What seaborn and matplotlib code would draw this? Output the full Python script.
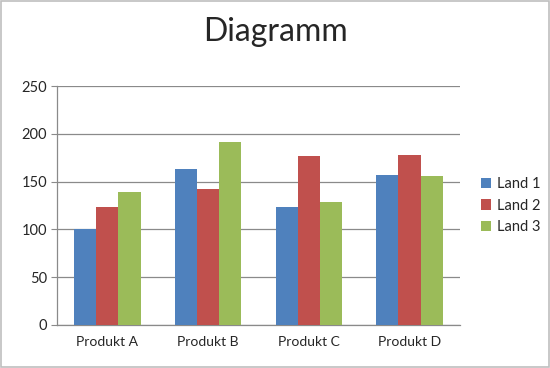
import pandas as pd
import matplotlib.pyplot as plt
import seaborn as sns
from matplotlib.patches import Rectangle

# chart data
PRODUKTE = ['Produkt A', 'Produkt B', 'Produkt C', 'Produkt D']
LAND_1 = [100, 163, 123, 157]
LAND_2 = [123, 142, 177, 178]
LAND_3 = [139, 192, 129, 156]
SERIES = ['Land 1', 'Land 2', 'Land 3']
COLORS = ['#4F81BD', '#C0504D', '#9BBB59']

df = pd.DataFrame({'Land 1': LAND_1, 'Land 2': LAND_2, 'Land 3': LAND_3}, index=PRODUKTE)
df = df.reset_index().melt(id_vars='index', var_name='Land', value_name='Wert')

sns.set_style('white')
plt.rcParams['font.family'] = ['Lato', 'DejaVu Sans']

fig = plt.figure(figsize=(5.5, 3.68), dpi=100)
ax = fig.add_axes([0.1036, 0.117, 0.7324, 0.649])

sns.barplot(data=df, x='index', y='Wert', hue='Land', hue_order=SERIES,
            palette=COLORS, width=0.66, saturation=1, linewidth=0,
            ax=ax, zorder=3)

ax.set_ylim(0, 250)
ax.set_yticks(range(0, 251, 50))
ax.set_xlim(-0.5, 3.5)
ax.yaxis.grid(True, color='#8a8a8a', linewidth=0.9, zorder=0)
ax.set_axisbelow(True)
ax.set_xlabel('')
ax.set_ylabel('')
for side in ['top', 'right']:
    ax.spines[side].set_visible(False)
for side in ['left', 'bottom']:
    ax.spines[side].set_color('#8a8a8a')
    ax.spines[side].set_linewidth(0.9)

ax.tick_params(axis='x', length=0, labelsize=10, pad=8)
ax.set_xticks([-0.5, 0.5, 1.5, 2.5, 3.5], minor=True)
ax.tick_params(axis='x', which='minor', length=4, color='#8a8a8a', direction='out')
ax.tick_params(axis='y', length=4, color='#8a8a8a', labelsize=10.5, pad=3, direction='out', left=True)

ax.legend(loc='center left', bbox_to_anchor=(1.02, 0.5), frameon=False,
          fontsize=10.5, handlelength=0.7, handleheight=0.7, handletextpad=0.4,
          labelspacing=0.5)

fig.suptitle('Diagramm', fontsize=23, y=0.955)

fig.patches.append(Rectangle((0.002, 0.003), 0.996, 0.994, transform=fig.transFigure,
                             fill=False, edgecolor='#bfbfbf', linewidth=1.2))

fig.savefig('out.png', dpi=100)
